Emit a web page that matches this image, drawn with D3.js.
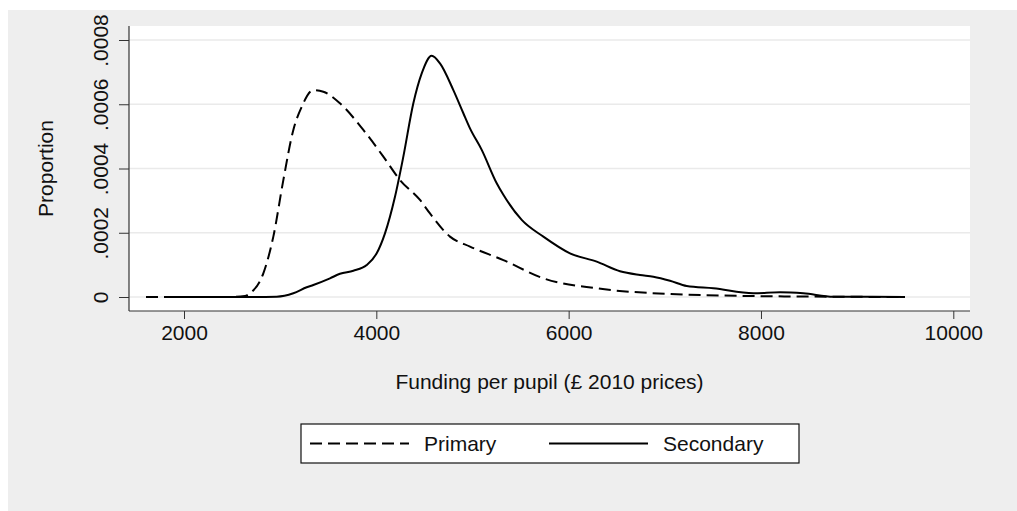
<!DOCTYPE html>
<html>
<head>
<meta charset="utf-8">
<script src="https://cdn.jsdelivr.net/npm/d3@7"></script>
<style>
    body { margin: 0; background: #ffffff; }
    text { font-family: "Liberation Sans", Arial, sans-serif; fill: #111111; }
</style>
</head>
<body>
<div id="chart"></div>
<script>

// funding per pupil (x) and density (y)
const primaryFunding = [1605, 2000, 2478, 2634, 2686, 2825, 2929, 3033, 3137, 3224, 3345, 3449, 3622, 3865, 4073, 4246, 4454, 4558, 4766, 4974, 5321, 5737, 6292, 7054, 7918, 8700, 9478];
const primaryDensity = [0, 0, 0, 0.000003, 0.0000115, 0.0000738, 0.000188, 0.000364, 0.00052, 0.000592, 0.000644, 0.000639, 0.000603, 0.00052, 0.000437, 0.000364, 0.000302, 0.00026, 0.000188, 0.000157, 0.000115, 0.0000582, 0.0000271, 0.0000093, 0.000003, 0.000001, 0];

const secondaryFunding = [1823, 2166, 2686, 2964, 3137, 3276, 3345, 3518, 3622, 3761, 3900, 4004, 4090, 4194, 4281, 4385, 4472, 4576, 4662, 4801, 4905, 4974, 5096, 5252, 5321, 5512, 5737, 6014, 6292, 6534, 6742, 6881, 7054, 7228, 7505, 7921, 8198, 8441, 8753, 9134, 9498];
const secondaryDensity = [0, 0, 0, 0.000001, 0.0000115, 0.0000302, 0.0000374, 0.0000582, 0.0000722, 0.0000819, 0.0000996, 0.000136, 0.000198, 0.000312, 0.000437, 0.000603, 0.000696, 0.000751, 0.000727, 0.000644, 0.000572, 0.000525, 0.000458, 0.000354, 0.000318, 0.00024, 0.000188, 0.000136, 0.00011, 0.00008, 0.0000685, 0.0000632, 0.0000507, 0.0000342, 0.0000271, 0.0000115, 0.0000146, 0.0000115, 0.000001, 0.0000005, 0];

const xTicks = [2000, 4000, 6000, 8000, 10000];
const yTicks = [0, 0.0002, 0.0004, 0.0006, 0.0008];
const seriesNames = ["Primary", "Secondary"];

let W = 1017, H = 511;
let fontSize = "21px";

let svg = d3.select("#chart").append("svg")
    .attr("width", W)
    .attr("height", H);

// grey outer region
svg.append("rect")
    .attr("x", 8).attr("y", 10)
    .attr("width", W - 8).attr("height", H - 10)
    .attr("fill", "#eeeeee");

let plot = {left: 129, right: 970, top: 26, bottom: 311};

svg.append("rect")
    .attr("x", plot.left).attr("y", plot.top)
    .attr("width", plot.right - plot.left).attr("height", plot.bottom - plot.top)
    .attr("fill", "white");

let x = d3.scaleLinear()
    .domain([2000, 10000])
    .range([184, 953.3]);

let y = d3.scaleLinear()
    .domain([0, 0.0008])
    .range([297, 40]);

// gridlines
svg.selectAll(".grid")
    .data(yTicks)
    .enter().append("line")
    .attr("class", "grid")
    .attr("x1", plot.left)
    .attr("x2", plot.right)
    .attr("y1", d => y(d))
    .attr("y2", d => y(d))
    .attr("stroke", "#eaeaea")
    .attr("stroke-width", 1.5);

let xAxis = d3.axisBottom(x)
    .tickValues(xTicks)
    .tickFormat(d3.format("d"))
    .tickSize(8)
    .tickPadding(6)
    .tickSizeOuter(0);

let gx = svg.append("g")
    .attr("class", "axis x-axis")
    .attr("transform", "translate(0," + plot.bottom + ")")
    .call(xAxis);
gx.select(".domain").remove();
gx.selectAll("text").style("font-size", fontSize);
gx.selectAll("line").attr("stroke", "#333");

svg.append("line")
    .attr("x1", plot.left).attr("x2", plot.right)
    .attr("y1", plot.bottom).attr("y2", plot.bottom)
    .attr("stroke", "#333").attr("stroke-width", 1.2);

let fmt = d => d === 0 ? "0" : d3.format(".4f")(d).replace(/^0/, "");

let yAxis = d3.axisLeft(y)
    .tickValues(yTicks)
    .tickSize(10)
    .tickFormat(fmt)
    .tickSizeOuter(0);

let gy = svg.append("g")
    .attr("class", "axis y-axis")
    .attr("transform", "translate(" + plot.left + ",0)")
    .call(yAxis);
gy.select(".domain").remove();
gy.selectAll("line").attr("stroke", "#333");
gy.selectAll("text")
    .attr("x", null).attr("dy", null)
    .attr("text-anchor", "middle")
    .attr("transform", "translate(-21,0) rotate(-90)")
    .style("font-size", fontSize);

svg.append("line")
    .attr("x1", plot.left).attr("x2", plot.left)
    .attr("y1", plot.top).attr("y2", plot.bottom)
    .attr("stroke", "#333").attr("stroke-width", 1.2);

// curves
let line = d3.line()
    .x(d => x(d[0]))
    .y(d => y(d[1]))
    .curve(d3.curveMonotoneX);

let primary = d3.zip(primaryFunding, primaryDensity);
let secondary = d3.zip(secondaryFunding, secondaryDensity);

svg.append("path")
    .datum(secondary)
    .attr("d", line)
    .attr("fill", "none")
    .attr("stroke", "black")
    .attr("stroke-width", 2);

svg.append("path")
    .datum(primary)
    .attr("d", line)
    .attr("fill", "none")
    .attr("stroke", "black")
    .attr("stroke-width", 2)
    .attr("stroke-dasharray", "12,6");

// axis titles
svg.append("text")
    .attr("transform", "translate(53,168.5) rotate(-90)")
    .attr("text-anchor", "middle")
    .style("font-size", fontSize)
    .text("Proportion");

svg.append("text")
    .attr("x", (plot.left + plot.right) / 2)
    .attr("y", 389)
    .attr("text-anchor", "middle")
    .style("font-size", fontSize)
    .text("Funding per pupil (£ 2010 prices)");

// legend
let legend = svg.append("g");
legend.append("rect")
    .attr("x", 301).attr("y", 424)
    .attr("width", 498).attr("height", 39)
    .attr("fill", "white")
    .attr("stroke", "#111")
    .attr("stroke-width", 1.2);

let legendItems = [
    {name: seriesNames[0], x: 310, dash: "12,6"},
    {name: seriesNames[1], x: 549, dash: null}
];

legendItems.forEach(function (item) {
    legend.append("line")
        .attr("x1", item.x).attr("x2", item.x + 99)
        .attr("y1", 443.5).attr("y2", 443.5)
        .attr("stroke", "black")
        .attr("stroke-width", 2)
        .attr("stroke-dasharray", item.dash);
    legend.append("text")
        .attr("x", item.x + 114)
        .attr("y", 451)
        .style("font-size", fontSize)
        .text(item.name);
});

</script>
</body>
</html>
